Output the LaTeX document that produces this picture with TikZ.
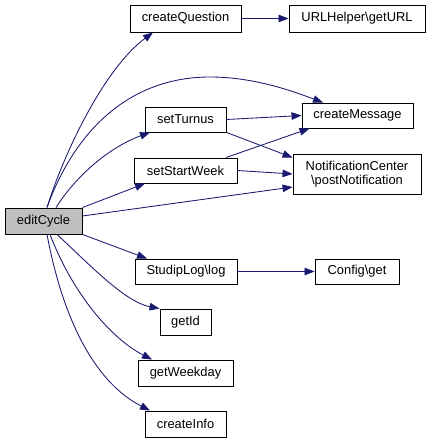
\documentclass[tikz,border=0pt]{standalone}
\usepackage{fontspec}
\setmainfont{Liberation Sans}
\usetikzlibrary{arrows.meta}
\definecolor{edgeblue}{HTML}{191970}
\definecolor{focusgrey}{HTML}{BFBFBF}
\begin{document}
\begin{tikzpicture}[x=1pt,y=-1pt,
  fn/.style={draw=black,line width=0.9pt,fill=white,inner sep=0pt,align=center,
    font=\fontsize{12.9}{14.5}\selectfont,minimum height=26pt},
  call/.style={draw=edgeblue,line width=0.85pt,-{Triangle[length=10pt,width=7.5pt]},fill=none}]
\useasboundingbox (0,0) rectangle (431,443);
\node[fn,fill=focusgrey,minimum width=77pt] (e) at (43.5,221) {editCycle};
\node[fn,minimum width=111pt,minimum height=27pt] (cq) at (185.5,18.5) {createQuestion};
\node[fn,minimum width=136pt,minimum height=27pt] (url) at (357,18.5) {URLHelper\textbackslash getURL};
\node[fn,minimum width=111pt,minimum height=25pt] (cm) at (357.5,115.5) {createMessage};
\node[fn,minimum width=81pt,minimum height=25pt] (st) at (185.5,119.5) {setTurnus};
\node[fn,minimum width=103pt,minimum height=25pt] (ssw) at (185.5,170.5) {setStartWeek};
\node[fn,minimum width=128pt,minimum height=40pt] (nc) at (357,174) {NotificationCenter\\\textbackslash postNotification};
\node[fn,minimum width=102pt,minimum height=25pt] (sl) at (186,271.5) {StudipLog\textbackslash log};
\node[fn,minimum width=84pt,minimum height=25pt] (cfg) at (357,271.5) {Config\textbackslash get};
\node[fn,minimum width=51pt] (gid) at (185.5,322) {getId};
\node[fn,minimum width=95pt] (gwd) at (185.5,373) {getWeekday};
\node[fn,minimum width=81pt] (ci) at (185.5,424) {createInfo};

\draw[call] ([xshift=3.5pt]e.north) .. controls (65,150) and (105,68) .. ([xshift=-32.5pt]cq.south);
\draw[call] ([xshift=3.5pt]e.north) .. controls (75,130) and (130,77) .. (210,77)
  .. controls (255,77) and (295,92) .. ([xshift=-34.5pt]cm.north);
\draw[call] ([xshift=12.5pt]e.north) .. controls (80,170) and (115,145) .. ([xshift=-35.5pt]st.south);
\draw[call] (e.north east) -- ([xshift=-40.5pt]ssw.south);
\draw[call] ([yshift=5pt]e.east) -- ([yshift=-13pt]nc.west);
\draw[call] (cq) -- (url);
\draw[call] (st.east) -- (cm.west);
\draw[call] (st.south east) -- ([yshift=-4pt]nc.north west);
\draw[call] ([xshift=40.5pt]ssw.north) -- ([xshift=8pt]cm.south west);
\draw[call] (ssw.east) -- (nc.west);
\draw[call] (e.south east) -- ([xshift=-39pt]sl.north);
\draw[call] (sl) -- (cfg);
\draw[call] ([xshift=13.5pt]e.south) .. controls (90,265) and (125,302) .. (gid.north west);
\draw[call] ([xshift=6.5pt]e.south) .. controls (72,292) and (110,338) .. ([xshift=-33.5pt]gwd.north);
\draw[call] ([xshift=3.5pt]e.south) .. controls (65,330) and (100,385) .. ([xshift=-35.5pt]ci.north);
\end{tikzpicture}
\end{document}
